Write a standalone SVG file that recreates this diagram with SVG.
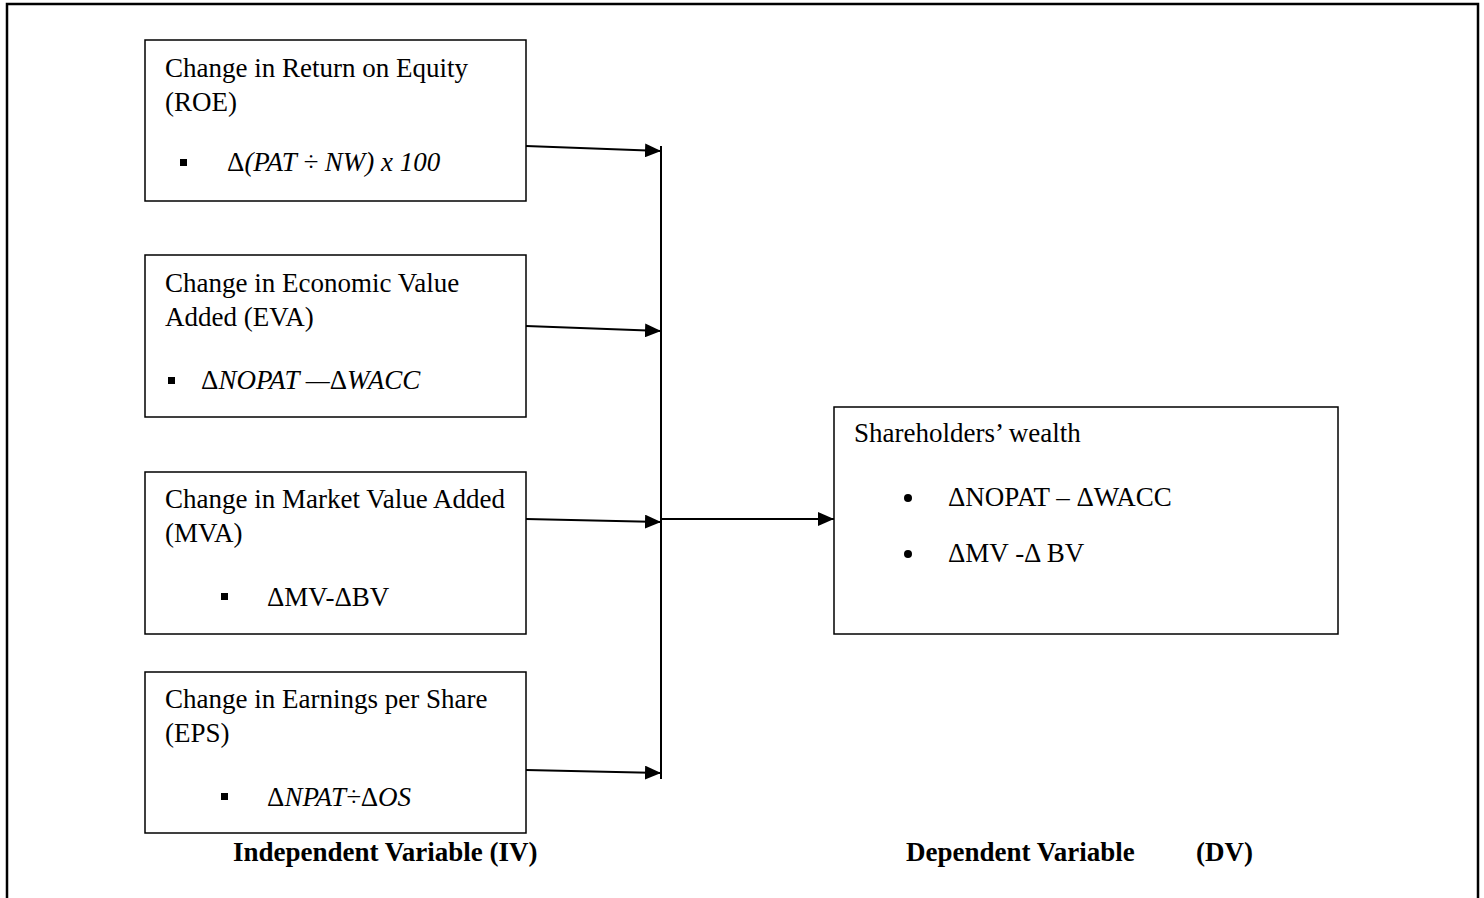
<svg xmlns="http://www.w3.org/2000/svg" width="1484" height="898" viewBox="0 0 1484 898">
<style>
.box{fill:#fff;stroke:#000;stroke-width:1.5}
.t{font-family:"Liberation Serif","Times New Roman",serif;font-size:27px;fill:#000}
.i{font-style:italic}
.b{font-weight:bold}
.c{stroke:#000;stroke-width:2;fill:none}
</style>
<defs>
<marker id="ah" viewBox="0 0 16 14" refX="16" refY="7" markerWidth="16" markerHeight="14" markerUnits="userSpaceOnUse" orient="auto">
<path d="M0,0 L16,7 L0,14 z" fill="#000"/>
</marker>
</defs>
<rect x="7" y="4" width="1471" height="910" fill="none" stroke="#000" stroke-width="2.5"/>
<g id="roe">
<rect class="box" x="145" y="40" width="381" height="161"/>
<text class="t" x="165" y="77">Change in Return on Equity</text>
<text class="t" x="165" y="111">(ROE)</text>
<rect x="180" y="159" width="7" height="7"/>
<text class="t" x="227" y="171"><tspan>Δ</tspan><tspan class="i">(PAT ÷ NW) x 100</tspan></text>
</g>
<g id="eva">
<rect class="box" x="145" y="255" width="381" height="162"/>
<text class="t" x="165" y="292">Change in Economic Value</text>
<text class="t" x="165" y="326">Added (EVA)</text>
<rect x="168" y="377" width="7" height="7"/>
<text class="t" x="201" y="389"><tspan>Δ</tspan><tspan class="i">NOPAT —</tspan><tspan>Δ</tspan><tspan class="i">WACC</tspan></text>
</g>
<g id="mva">
<rect class="box" x="145" y="472" width="381" height="162"/>
<text class="t" x="165" y="508">Change in Market Value Added</text>
<text class="t" x="165" y="542">(MVA)</text>
<rect x="221" y="593" width="7" height="7"/>
<text class="t" x="267" y="606">ΔMV-ΔBV</text>
</g>
<g id="eps">
<rect class="box" x="145" y="672" width="381" height="161"/>
<text class="t" x="165" y="708">Change in Earnings per Share</text>
<text class="t" x="165" y="742">(EPS)</text>
<rect x="221" y="793" width="7" height="7"/>
<text class="t" x="267" y="806"><tspan>Δ</tspan><tspan class="i">NPAT÷</tspan><tspan>Δ</tspan><tspan class="i">OS</tspan></text>
</g>
<g id="wealth">
<rect class="box" x="834" y="407" width="504" height="227"/>
<text class="t" x="854" y="442">Shareholders’ wealth</text>
<circle cx="908" cy="498" r="4"/>
<text class="t" x="948" y="506">ΔNOPAT – ΔWACC</text>
<circle cx="908" cy="554" r="4"/>
<text class="t" x="948" y="562">ΔMV -Δ BV</text>
</g>
<g id="labels">
<text class="t b" x="233" y="861">Independent Variable (IV)</text>
<text class="t b" x="906" y="861">Dependent Variable</text>
<text class="t b" x="1196" y="861">(DV)</text>
</g>
<g id="connectors">
<line class="c" x1="661" y1="146" x2="661" y2="779"/>
<line class="c" x1="526" y1="146" x2="661" y2="151" marker-end="url(#ah)"/>
<line class="c" x1="526" y1="326" x2="661" y2="331" marker-end="url(#ah)"/>
<line class="c" x1="526" y1="519" x2="661" y2="522" marker-end="url(#ah)"/>
<line class="c" x1="526" y1="770" x2="661" y2="773" marker-end="url(#ah)"/>
<line class="c" x1="661" y1="519" x2="834" y2="519" marker-end="url(#ah)"/>
</g>
</svg>
